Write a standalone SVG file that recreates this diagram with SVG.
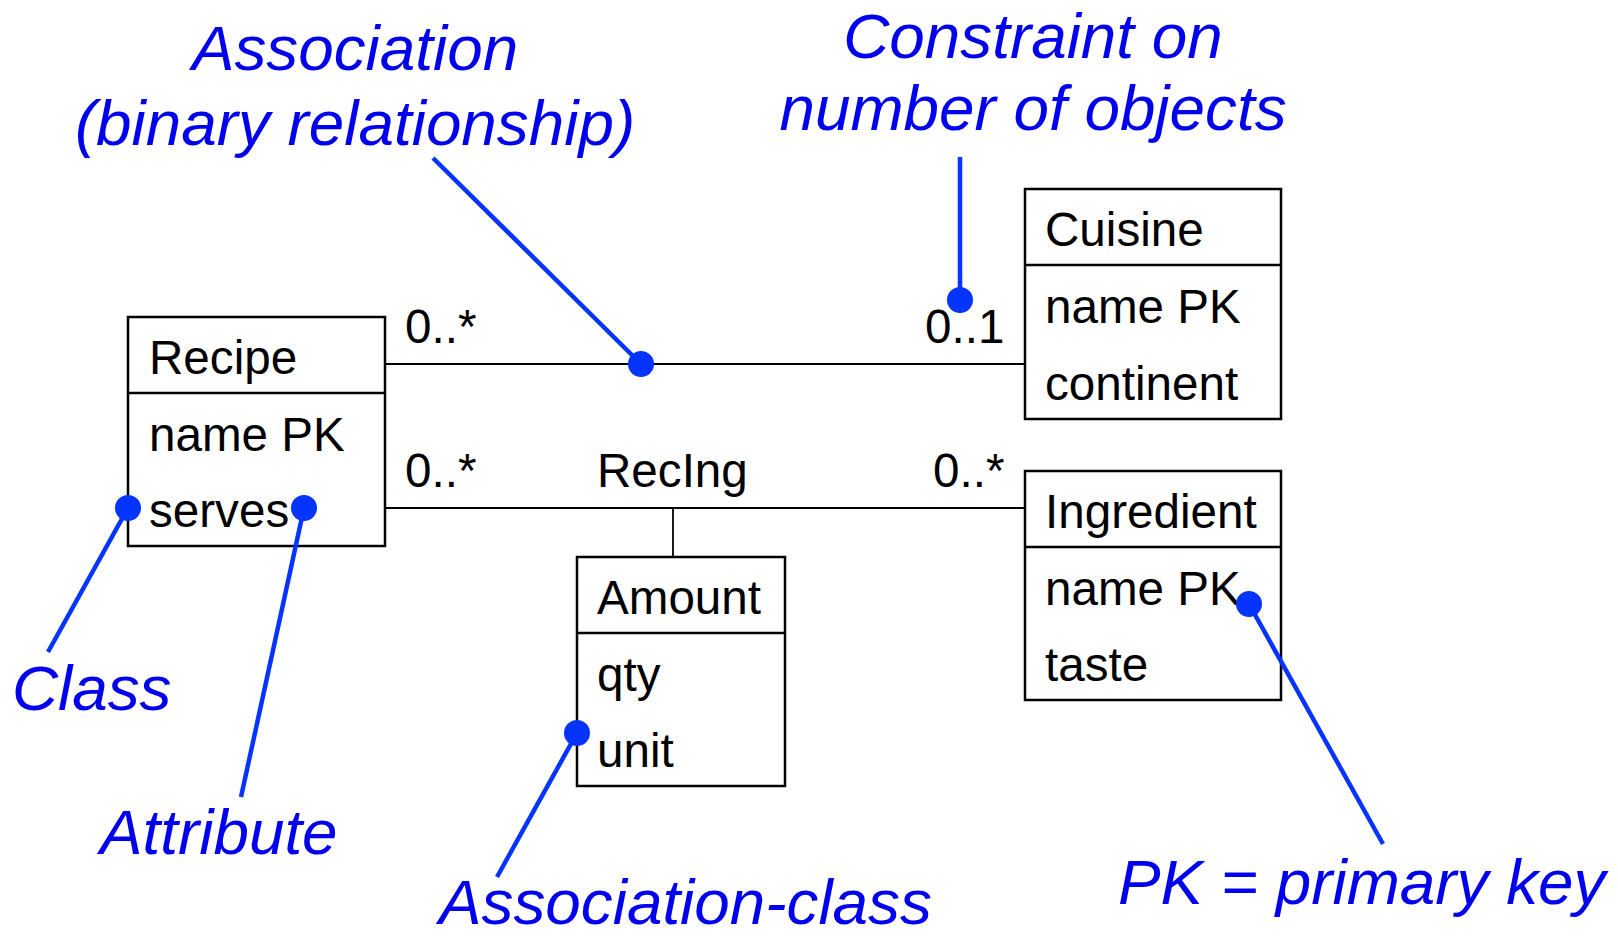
<svg xmlns="http://www.w3.org/2000/svg" width="1618" height="938" viewBox="0 0 1618 938">
<style>
.box{fill:#fff;stroke:#000;stroke-width:2.5}
.div{stroke:#000;stroke-width:2.5}
.t{font-family:"Liberation Sans",Arial,sans-serif;font-size:47.6px;fill:#000}
.ann{font-family:"Liberation Sans",Arial,sans-serif;font-size:63.8px;font-style:italic;fill:#0000ee}
.conn{stroke:#000;stroke-width:1.8;fill:none}
.lead{stroke:#0533ff;stroke-width:4.5;fill:none}
.dot{fill:#0533ff}
</style>
<rect width="1618" height="938" fill="#fff"/>
<g id="connectors">
<line class="conn" x1="385" y1="364" x2="1025" y2="364"/>
<line class="conn" x1="385" y1="508" x2="1025" y2="508"/>
<line class="conn" x1="673" y1="508" x2="673" y2="557"/>
<text class="t" x="405" y="343">0..*</text>
<text class="t" x="925" y="343">0..1</text>
<text class="t" x="405" y="487">0..*</text>
<text class="t" x="597" y="487">RecIng</text>
<text class="t" x="933" y="487">0..*</text>
</g>
<g id="recipe">
<rect class="box" x="128" y="317" width="257" height="229"/>
<line class="div" x1="128" y1="393" x2="385" y2="393"/>
<text class="t" x="149" y="374">Recipe</text>
<text class="t" x="149" y="451">name PK</text>
<text class="t" x="149" y="527">serves</text>
</g>
<g id="cuisine">
<rect class="box" x="1025" y="189" width="256" height="230"/>
<line class="div" x1="1025" y1="265" x2="1281" y2="265"/>
<text class="t" x="1045" y="246">Cuisine</text>
<text class="t" x="1045" y="323">name PK</text>
<text class="t" x="1045" y="400">continent</text>
</g>
<g id="ingredient">
<rect class="box" x="1025" y="471" width="256" height="229"/>
<line class="div" x1="1025" y1="547" x2="1281" y2="547"/>
<text class="t" x="1045" y="528">Ingredient</text>
<text class="t" x="1045" y="605">name PK</text>
<text class="t" x="1045" y="681">taste</text>
</g>
<g id="amount">
<rect class="box" x="577" y="557" width="208" height="229"/>
<line class="div" x1="577" y1="633" x2="785" y2="633"/>
<text class="t" x="597" y="614">Amount</text>
<text class="t" x="597" y="691">qty</text>
<text class="t" x="597" y="767">unit</text>
</g>
<g id="ann-association">
<text class="ann" x="355" y="70" text-anchor="middle">Association</text>
<text class="ann" x="355" y="145" text-anchor="middle">(binary relationship)</text>
<line class="lead" x1="433" y1="158" x2="641" y2="364"/>
<circle class="dot" cx="641" cy="364" r="13"/>
</g>
<g id="ann-constraint">
<text class="ann" x="1033" y="58" text-anchor="middle">Constraint on</text>
<text class="ann" x="1033" y="130" text-anchor="middle">number of objects</text>
<line class="lead" x1="960" y1="157" x2="960" y2="300"/>
<circle class="dot" cx="960" cy="300" r="13"/>
</g>
<g id="ann-class">
<text class="ann" x="12" y="710">Class</text>
<line class="lead" x1="48" y1="652" x2="128" y2="508"/>
<circle class="dot" cx="128" cy="508" r="13"/>
</g>
<g id="ann-attribute">
<text class="ann" x="100" y="854">Attribute</text>
<line class="lead" x1="241" y1="797" x2="304" y2="508"/>
<circle class="dot" cx="304" cy="508" r="13"/>
</g>
<g id="ann-assocclass">
<text class="ann" x="439" y="924">Association-class</text>
<line class="lead" x1="497" y1="877" x2="577" y2="733"/>
<circle class="dot" cx="577" cy="733" r="13"/>
</g>
<g id="ann-pk">
<text class="ann" x="1118" y="904">PK = primary key</text>
<line class="lead" x1="1383" y1="844" x2="1249" y2="604"/>
<circle class="dot" cx="1249" cy="604" r="13"/>
</g>
</svg>
